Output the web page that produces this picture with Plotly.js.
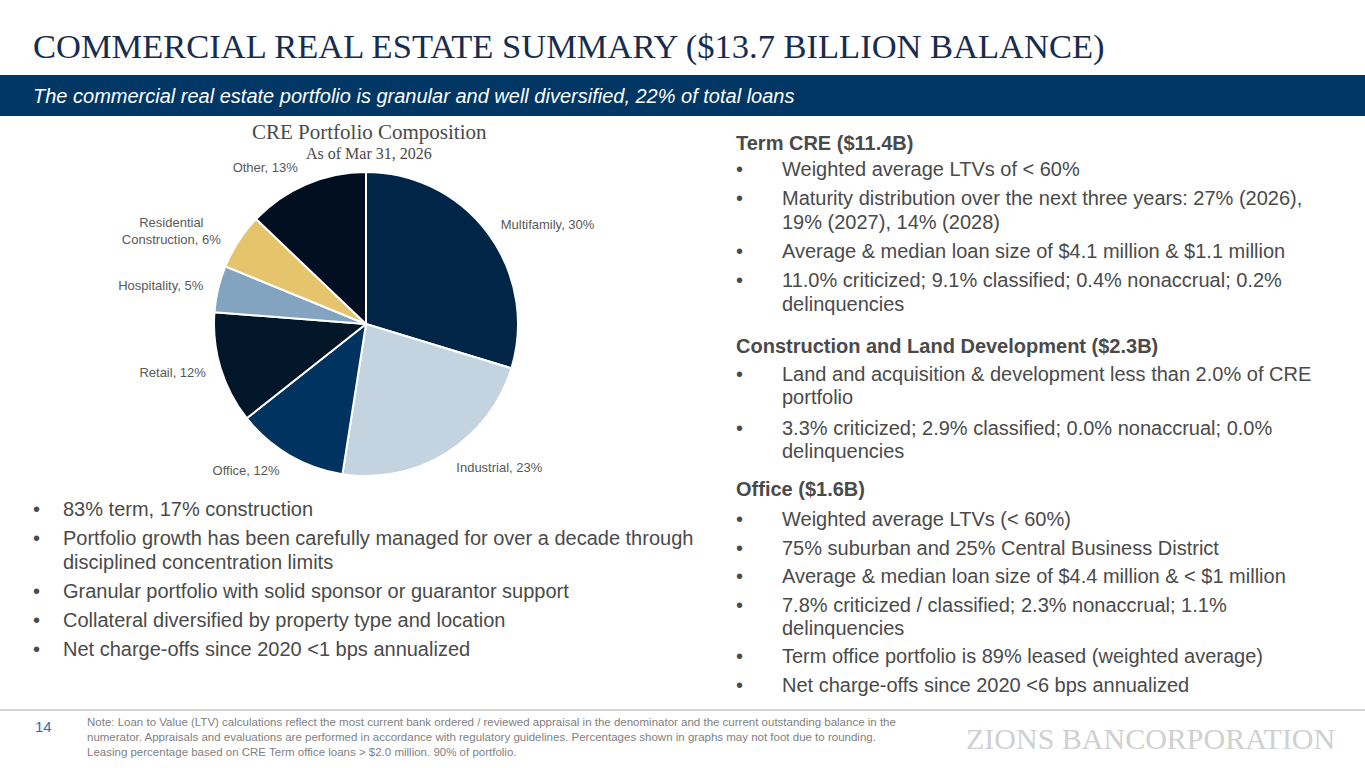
<!DOCTYPE html>
<html>
<head>
<meta charset="utf-8">
<script src="https://cdn.plot.ly/plotly-3.0.1.min.js"></script>
<style>html,body{margin:0;padding:0;background:#fff;overflow:hidden}#chart{width:1365px;height:768px}</style>
</head>
<body>
<div id="chart"></div>
<script>
// ---- data ----
const sliceLabels = ['Multifamily', 'Industrial', 'Office', 'Retail', 'Hospitality', 'Residential<br>Construction', 'Other'];
const sliceValues = [30, 23, 12, 12, 5, 6, 13];
const sliceColors = ['#012547', '#C3D3DF', '#00335F', '#011628', '#82A4C1', '#E5C46B', '#010F21'];

const pageTitle = 'COMMERCIAL REAL ESTATE SUMMARY ($13.7 BILLION BALANCE)';
const bannerText = 'The commercial real estate portfolio is granular and well diversified, 22% of total loans';
const chartTitle = 'CRE Portfolio Composition';
const chartSubtitle = 'As of Mar 31, 2026';

const leftBullets = [
  ['83% term, 17% construction'],
  ['Portfolio growth has been carefully managed for over a decade through', 'disciplined concentration limits'],
  ['Granular portfolio with solid sponsor or guarantor support'],
  ['Collateral diversified by property type and location'],
  ['Net charge-offs since 2020 <1 bps annualized']
];

const termHeading = 'Term CRE ($11.4B)';
const termBullets = [
  ['Weighted average LTVs of < 60%'],
  ['Maturity distribution over the next three years: 27% (2026),', '19% (2027), 14% (2028)'],
  ['Average & median loan size of $4.1 million & $1.1 million'],
  ['11.0% criticized; 9.1% classified; 0.4% nonaccrual; 0.2%', 'delinquencies']
];
const cldHeading = 'Construction and Land Development ($2.3B)';
const cldBullets = [
  ['Land and acquisition & development less than 2.0% of CRE', 'portfolio'],
  ['3.3% criticized; 2.9% classified; 0.0% nonaccrual; 0.0%', 'delinquencies']
];
const officeHeading = 'Office ($1.6B)';
const officeBullets = [
  ['Weighted average LTVs (< 60%)'],
  ['75% suburban and 25% Central Business District'],
  ['Average & median loan size of $4.4 million & < $1 million'],
  ['7.8% criticized / classified; 2.3% nonaccrual; 1.1%', 'delinquencies'],
  ['Term office portfolio is 89% leased (weighted average)'],
  ['Net charge-offs since 2020 <6 bps annualized']
];

const pageNumber = '14';
const noteLines = [
  'Note: Loan to Value (LTV) calculations reflect the most current bank ordered / reviewed appraisal in the denominator and the current outstanding balance in the',
  'numerator. Appraisals and evaluations are performed in accordance with regulatory guidelines. Percentages shown in graphs may not foot due to rounding.',
  'Leasing percentage based on CRE Term office loans > $2.0 million. 90% of portfolio.'
];
const logoText = 'ZIONS BANCORPORATION';

// ---- layout helpers ----
const W = 1365, H = 768;
const px = x => x / W;
const py = y => 1 - y / H;
const SANS = 'Liberation Sans, Arial, sans-serif';
const SERIF = 'Liberation Serif, Times New Roman, serif';
const TXT = '#4A4A4A';
const BODY = 20;

const annotations = [];
function txt(x, y, text, opts) {
  opts = opts || {};
  annotations.push({
    xref: 'paper', yref: 'paper', x: px(x), y: py(y),
    xanchor: opts.xanchor || 'left', yanchor: 'middle',
    text: text, showarrow: false,
    font: {family: opts.family || SANS, size: opts.size || BODY, color: opts.color || TXT}
  });
}

function bulletList(list, y, bx, tx, bulletGap, wrapGap) {
  list.forEach((lines, i) => {
    if (i > 0) y += bulletGap;
    txt(bx, y, '•', {});
    lines.forEach((ln, j) => {
      if (j > 0) y += wrapGap;
      txt(tx, y, ln, {});
    });
  });
  return y;
}

// page title and banner
txt(31, 47, pageTitle, {family: SERIF, size: 34.5, color: '#172C4E'});
txt(31, 96, '<i>' + bannerText + '</i>', {size: 20, color: '#ffffff'});

// pie titles
txt(369, 132, chartTitle, {family: SERIF, size: 21, color: '#4A4A4A', xanchor: 'center'});
txt(369, 153, chartSubtitle, {family: SERIF, size: 16, color: '#4A4A4A', xanchor: 'center'});

// left bullets
bulletList(leftBullets, 509, 31, 61, 29, 24);

// right column
let y = 143;
txt(734, y, '<b>' + termHeading + '</b>', {});
y = bulletList(termBullets, y + 26, 734, 780, 29, 24);
y += 42;
txt(734, y, '<b>' + cldHeading + '</b>', {});
y = bulletList(cldBullets, y + 28, 734, 780, 31, 23);
y += 38;
txt(734, y, '<b>' + officeHeading + '</b>', {});
bulletList(officeBullets, y + 30, 734, 780, 28.5, 23);

// footer
txt(33, 726, pageNumber, {size: 15, color: '#1F6FB5'});
noteLines.forEach((ln, i) => txt(85, 722 + i * 15, ln, {size: 11.5, color: '#7F7F7F'}));
txt(1337, 738, logoText, {family: SERIF, size: 30, color: '#D0D0D0', xanchor: 'right'});

const shapes = [
  {type: 'rect', xref: 'paper', yref: 'paper', x0: 0, x1: 1, y0: py(116), y1: py(75), fillcolor: '#003764', line: {width: 0}, layer: 'below'},
  {type: 'line', xref: 'paper', yref: 'paper', x0: 0, x1: 1, y0: py(710), y1: py(710), line: {color: '#C8C8C8', width: 1.5}}
];

const common = {
  type: 'pie',
  labels: sliceLabels,
  values: sliceValues,
  sort: false,
  direction: 'clockwise',
  rotation: 0,
  hoverinfo: 'none',
  automargin: false
};

// label carrier: same slices, slightly larger and transparent, so the outside labels sit a bit further out
const labelTrace = Object.assign({}, common, {
  marker: {colors: sliceValues.map(() => 'rgba(0,0,0,0)'), line: {width: 0}},
  texttemplate: '%{label}, %{value}%',
  textinfo: 'text',
  textposition: 'outside',
  outsidetextfont: {family: SANS, size: 13, color: '#595959'},
  domain: {x: [px(203), px(529)], y: [py(487), py(161)]}
});

const pieTrace = Object.assign({}, common, {
  marker: {colors: sliceColors, line: {color: '#ffffff', width: 2}},
  textinfo: 'none',
  domain: {x: [px(214), px(518)], y: [py(476), py(172)]}
});

const layout = {
  width: W, height: H,
  margin: {l: 0, r: 0, t: 0, b: 0},
  paper_bgcolor: '#ffffff',
  showlegend: false,
  annotations: annotations,
  shapes: shapes
};

Plotly.newPlot('chart', [labelTrace, pieTrace], layout, {displayModeBar: false, staticPlot: true});
</script>
</body>
</html>
